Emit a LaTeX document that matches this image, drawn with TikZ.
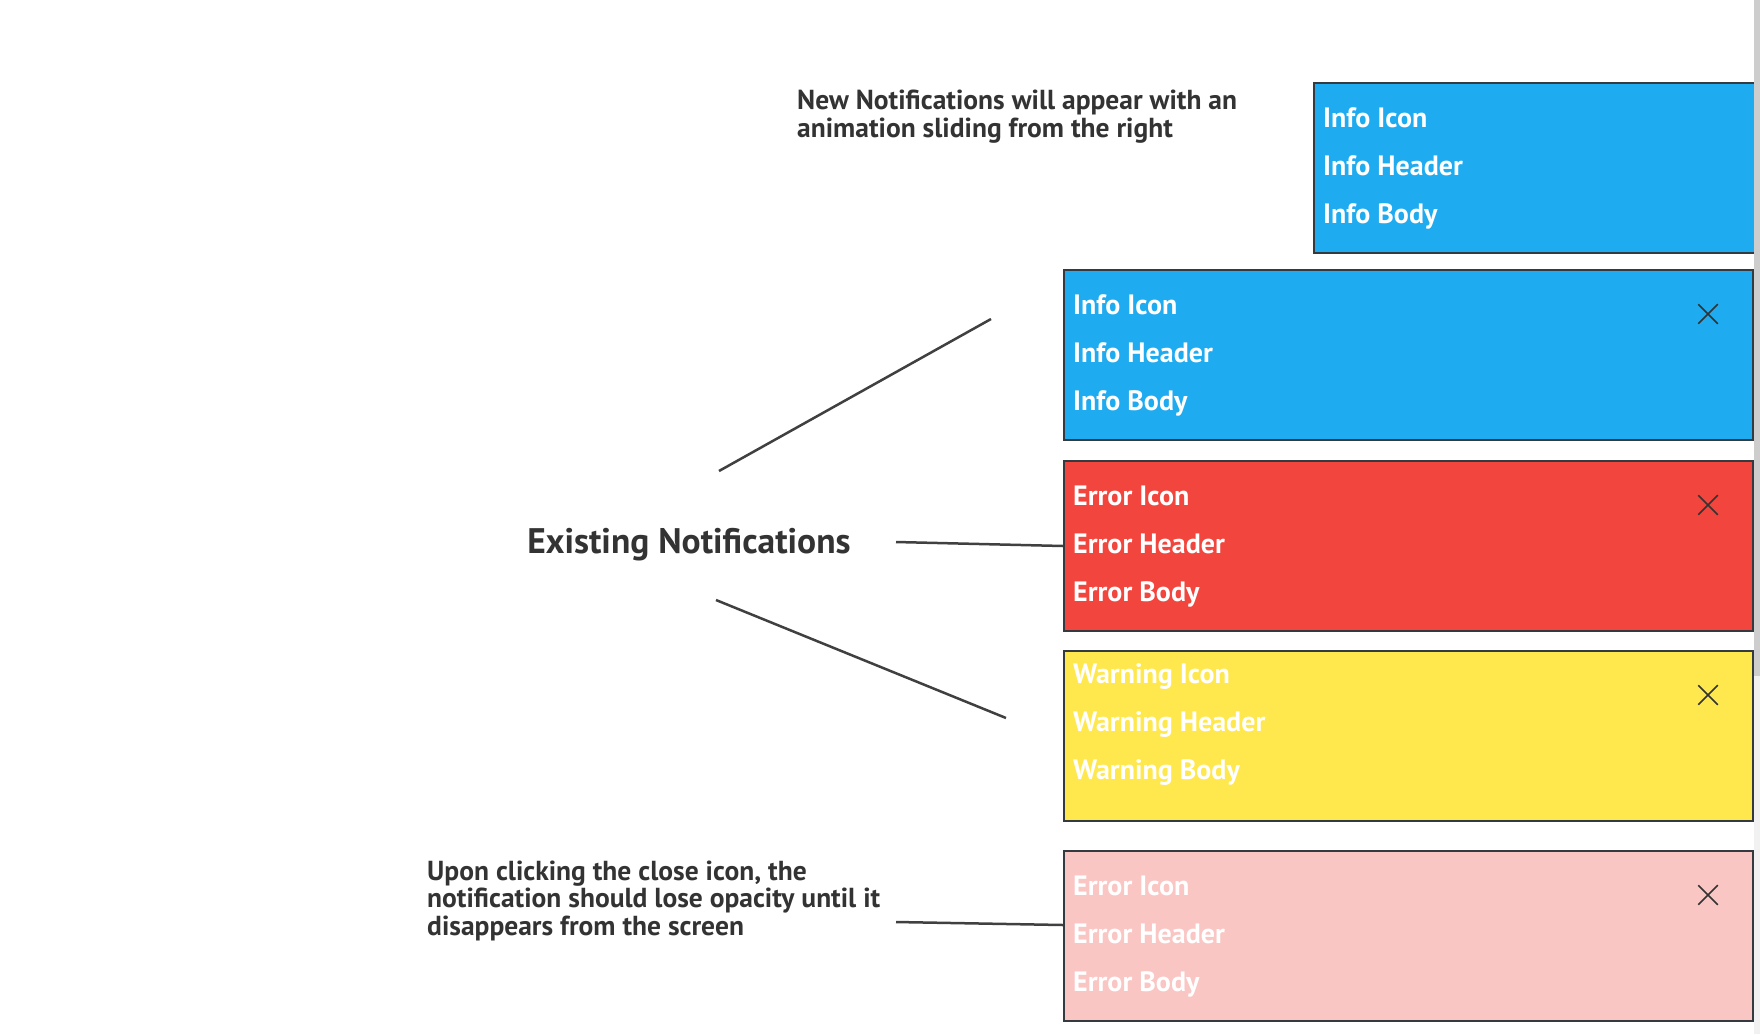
\documentclass[tikz,border=0pt]{standalone}
\usepackage{fontspec}
\setmainfont{PT Sans}
\usetikzlibrary{calc,shapes.misc}

\definecolor{infoblue}{HTML}{1EABF0}
\definecolor{errorred}{HTML}{F2453D}
\definecolor{warnyellow}{HTML}{FFE84D}
\definecolor{fadedpink}{HTML}{F9C6C4}
\definecolor{boxline}{HTML}{333A40}
\definecolor{textgray}{HTML}{333333}
\definecolor{linegray}{HTML}{404040}
\definecolor{scrollthumb}{HTML}{CDCDCD}
\definecolor{scrolltrack}{HTML}{F1F1F1}

\tikzset{
    notebox/.style={rectangle, draw=boxline, line width=2pt, anchor=north west,
        minimum width=689pt, minimum height=170pt, inner sep=0pt},
    notetext/.style={anchor=base west, inner sep=0pt, text=white,
        font=\bfseries\fontsize{28}{32}\selectfont},
    closeicon/.style={cross out, draw=textgray, line width=1.5pt,
        minimum size=18pt, inner sep=0pt},
    remark/.style={anchor=base west, inner sep=0pt, align=left, text=textgray,
        font=\bfseries\fontsize{27.5}{27.5}\selectfont},
    headline/.style={inner sep=0pt, text=textgray,
        font=\bfseries\fontsize{35.5}{40}\selectfont},
    pointer/.style={draw=linegray, line width=2.5pt}
}

\begin{document}
\begin{tikzpicture}[x=1pt, y=-1pt]
    \useasboundingbox (0,0) rectangle (1760,1034);

    % notifications
    \node[notebox, fill=infoblue, minimum width=441pt] (newinfo) at (1313,82) {};
    \node[notebox, fill=infoblue] (info) at (1063,269) {};
    \node[notebox, fill=errorred] (error) at (1063,460) {};
    \node[notebox, fill=warnyellow] (warning) at (1063,650) {};
    \node[notebox, fill=fadedpink] (faded) at (1063,850) {};

    \foreach \t [count=\i from 0] in {Icon, Header, Body} {
        \node[notetext] (newinfo-\i) at ($(newinfo.north west)+(10,45+48*\i)$) {Info \t};
        \node[notetext] (info-\i) at ($(info.north west)+(10,45+48*\i)$) {Info \t};
        \node[notetext] (error-\i) at ($(error.north west)+(10,45+48*\i)$) {Error \t};
        \node[notetext] (warning-\i) at ($(warning.north west)+(10,33+48*\i)$) {Warning \t};
        \node[notetext] (faded-\i) at ($(faded.north west)+(10,45+48*\i)$) {Error \t};
    }

    \foreach \b in {info, error, warning, faded} {
        \node[closeicon] (\b-close) at ($(\b.north east)+(-46,45)$) {};
    }

    % scroll bar
    \fill[scrolltrack] (1754,0) rectangle (1760,1034);
    \fill[scrollthumb] (1754,0) rectangle (1760,676);

    % notes (anchored on the last line)
    \node[remark] (slide-note) at (797,137)
        {New Notifications will appear with an\\animation sliding from the right};
    \node[headline] (existing) at (689,545) {Existing Notifications};
    \node[remark] (fade-note) at (427,935)
        {Upon clicking the close icon, the\\notification should lose opacity until it\\disappears from the screen};

    \coordinate (info-start) at (719,471);
    \coordinate (info-end) at (991,319);
    \coordinate (error-start) at (896,542);
    \coordinate (warning-start) at (716,600);
    \coordinate (warning-end) at (1006,718);
    \coordinate (faded-start) at (896,922);
    \draw[pointer] (info-start) -- (info-end);
    \draw[pointer] (error-start) -- (error.west);
    \draw[pointer] (warning-start) -- (warning-end);
    \draw[pointer] (faded-start) -- ($(faded.west)+(0,-11)$);
\end{tikzpicture}
\end{document}
